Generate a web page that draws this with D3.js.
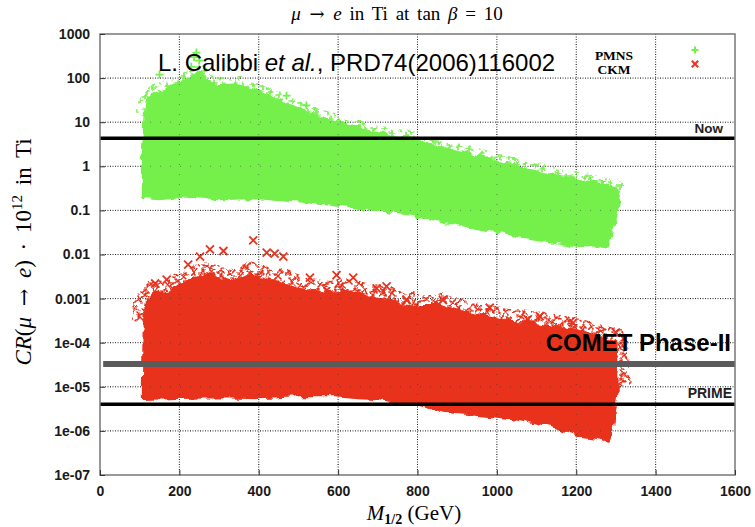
<!DOCTYPE html>
<html>
<head>
<meta charset="utf-8">
<script src="https://cdn.jsdelivr.net/npm/d3@7"></script>
<style>
  body { margin: 0; background: #fff; }
  svg { display: block; }
</style>
</head>
<body>
<svg id="chart" width="755" height="527"></svg>
<script>
// axis ticks
const xTicks = [0, 200, 400, 600, 800, 1000, 1200, 1400, 1600]
const yTicks = [1e3, 1e2, 10, 1, 0.1, 0.01, 0.001, 1e-4, 1e-5, 1e-6, 1e-7]
const yTickLabels = ["1000", "100", "10", "1", "0.1", "0.01", "0.001", "1e-04", "1e-05", "1e-06", "1e-07"]

// PMNS cloud outline: [M1/2, CR]
const pmnsTop = [[108, 2], [112, 15], [120, 35], [140, 50], [155, 45], [170, 60], [200, 75], [225, 95],
  [245, 140], [265, 90], [300, 70], [340, 72], [383, 60], [420, 40], [461, 28], [500, 20], [546, 14],
  [600, 9.5], [672, 6.5], [720, 5.2], [789, 4.2], [830, 3.1], [882, 2.3], [940, 1.8], [1000, 1.3],
  [1050, 0.95], [1091, 0.8], [1150, 0.62], [1201, 0.5], [1260, 0.4], [1300, 0.32], [1310, 0.28]]
const pmnsBottom = [[108, 0.19], [150, 0.18], [200, 0.2], [250, 0.21], [300, 0.18], [395, 0.19],
  [450, 0.17], [500, 0.16], [587, 0.13], [650, 0.115], [700, 0.1], [756, 0.09], [789, 0.082],
  [840, 0.062], [882, 0.052], [940, 0.041], [1000, 0.033], [1050, 0.026], [1091, 0.022], [1150, 0.018],
  [1201, 0.015], [1255, 0.014], [1280, 0.016], [1295, 0.05], [1305, 0.15]]

// CKM cloud outline
const ckmTop = [[108, 1e-5], [110, 3e-4], [118, 0.0009], [140, 0.0015], [170, 0.0012], [200, 0.002],
  [240, 0.0028], [270, 0.0038], [300, 0.0028], [340, 0.0024], [380, 0.0036], [420, 0.0028],
  [460, 0.0023], [500, 0.0017], [560, 0.0014], [620, 0.0015], [680, 0.0011], [720, 0.001],
  [760, 0.00075], [800, 0.00068], [860, 0.00068], [920, 0.00048], [980, 0.00038], [1050, 0.0003],
  [1110, 0.00027], [1190, 0.0002], [1250, 0.00015], [1298, 0.00011], [1305, 1e-5]]
const ckmBottom = [[108, 5.3e-6], [200, 5.6e-6], [300, 5.8e-6], [400, 5.5e-6], [500, 6.1e-6],
  [587, 6.2e-6], [650, 5.5e-6], [700, 5.2e-6], [756, 4.5e-6], [789, 4.2e-6], [830, 3.4e-6], [865, 2.7e-6],
  [930, 2.4e-6], [1000, 2.1e-6], [1050, 1.9e-6], [1091, 1.6e-6], [1150, 1.2e-6], [1210, 7.8e-7],
  [1260, 6.6e-7], [1282, 6e-7], [1292, 1.2e-6], [1300, 4e-6]]

// single markers sticking out of the clouds
const pmnsOutliers = [[243, 380], [237, 300], [250, 250], [150, 120], [230, 180], [470, 40], [520, 24]]
const ckmOutliers = [[386, 0.021], [277, 0.013], [311, 0.012], [420, 0.011], [440, 0.0105], [462, 0.009],
  [252, 0.009], [168, 0.0027], [139, 0.0022], [222, 0.0059], [596, 0.0034], [638, 0.003], [529, 0.003],
  [697, 0.0017], [722, 0.0019], [773, 0.00093], [864, 0.00093], [982, 0.00062], [1078, 0.00034],
  [1108, 0.0004], [1192, 0.00028], [1300, 0.00017]]

// experimental limits
const nowLimit = 4.3
const cometLimit = 3.3e-5
const primeLimit = 4e-6

const svg = d3.select("#chart")
const margin = { left: 100, right: 20, top: 34, bottom: 52 }
const width = 755, height = 527

const x = d3.scaleLinear().domain([0, 1600]).range([margin.left, width - margin.right])
const y = d3.scaleLog().domain([1e-7, 1e3]).range([height - margin.bottom, margin.top])

const green = "#74f04c"
const red = "#e8331f"

const plus = s => `M${-s},0H${s}M0,${-s}V${s}`
const cross = s => `M${-s},${-s}L${s},${s}M${-s},${s}L${s},${-s}`

// textures: rough edges and marker patterns for the dense clouds
const defs = svg.append("defs")
const rough = defs.append("filter").attr("id", "rough")
  .attr("filterUnits", "userSpaceOnUse").attr("x", 0).attr("y", 0).attr("width", width).attr("height", height)
rough.append("feTurbulence").attr("type", "fractalNoise").attr("baseFrequency", 0.09)
  .attr("numOctaves", 2).attr("seed", 4).attr("result", "noise")
rough.append("feDisplacementMap").attr("in", "SourceGraphic").attr("in2", "noise")
  .attr("scale", 8).attr("xChannelSelector", "R").attr("yChannelSelector", "G")

const glyphSpots = [[3, 3], [12, 6], [7, 11], [16, 14], [1, 16], [13, 1]]
const makePattern = (id, glyph, color, sw) => {
  const p = defs.append("pattern").attr("id", id).attr("patternUnits", "userSpaceOnUse")
    .attr("width", 19).attr("height", 18)
  p.selectAll("path").data(glyphSpots).join("path")
    .attr("transform", d => `translate(${d[0]},${d[1]})`)
    .attr("d", glyph).attr("stroke", color).attr("stroke-width", sw).attr("fill", "none")
}
makePattern("plusPat", plus(3.5), green, 1.6)
makePattern("crossPat", cross(3.5), red, 1.6)

// grid (dotted, gnuplot style)
const grid = svg.append("g")
grid.selectAll("line.gx").data(xTicks.slice(1, -1)).join("line")
  .attr("x1", d => x(d)).attr("x2", d => x(d))
  .attr("y1", y(1e3)).attr("y2", y(1e-7))
  .attr("stroke", "#222").attr("stroke-width", 1).attr("stroke-dasharray", "1,1.5")
grid.selectAll("line.gy").data(yTicks.slice(1, -1)).join("line")
  .attr("x1", x(0)).attr("x2", x(1600))
  .attr("y1", d => y(d)).attr("y2", d => y(d))
  .attr("stroke", "#222").attr("stroke-width", 1).attr("stroke-dasharray", "1,1.5")

// clouds: solid core, scattered markers along the upper edge
const line = d3.line().x(d => x(d[0])).y(d => y(d[1]))
const cloud = (top, bottom, color, pat, halo) => {
  const g = svg.append("g").attr("filter", "url(#rough)")
  g.append("path").attr("d", line(top.slice(1)))
    .attr("fill", "none").attr("stroke", `url(#${pat})`).attr("stroke-width", halo)
    .attr("stroke-linejoin", "round")
  g.append("path").attr("d", line(top.concat(bottom.slice().reverse())) + "Z")
    .attr("fill", color).attr("stroke", color).attr("stroke-width", 2)
    .attr("stroke-linejoin", "round")
}
cloud(pmnsTop, pmnsBottom, green, "plusPat", 15)
cloud(ckmTop, ckmBottom, red, "crossPat", 24)

svg.append("g").selectAll("path").data(pmnsOutliers).join("path")
  .attr("transform", d => `translate(${x(d[0])},${y(d[1])})`)
  .attr("d", plus(4)).attr("stroke", green).attr("stroke-width", 1.8).attr("fill", "none")
svg.append("g").selectAll("path").data(ckmOutliers).join("path")
  .attr("transform", d => `translate(${x(d[0])},${y(d[1])})`)
  .attr("d", cross(4)).attr("stroke", red).attr("stroke-width", 1.8).attr("fill", "none")

// sparse grid dots showing through the clouds
grid.clone(true).raise().attr("opacity", 0.45)
  .selectAll("line").attr("stroke-dasharray", "1,9")

// limit lines
svg.append("line")
  .attr("x1", x(0)).attr("x2", x(1600)).attr("y1", y(nowLimit)).attr("y2", y(nowLimit))
  .attr("stroke", "#000").attr("stroke-width", 3.5)
svg.append("line")
  .attr("x1", x(0)).attr("x2", x(1600)).attr("y1", y(primeLimit)).attr("y2", y(primeLimit))
  .attr("stroke", "#000").attr("stroke-width", 3.5)
svg.append("line")
  .attr("x1", x(8)).attr("x2", x(1600)).attr("y1", y(cometLimit)).attr("y2", y(cometLimit))
  .attr("stroke", "#5b5b5b").attr("stroke-width", 6)

// frame
svg.append("rect")
  .attr("x", x(0)).attr("y", y(1e3))
  .attr("width", x(1600) - x(0)).attr("height", y(1e-7) - y(1e3))
  .attr("fill", "none").attr("stroke", "#777").attr("stroke-width", 1.5)

// axes
const xAxis = svg.append("g")
  .attr("transform", `translate(0,${y(1e-7)})`)
  .call(d3.axisBottom(x).tickValues(xTicks).tickFormat(d3.format("d")).tickSize(-5).tickPadding(11))
const yAxis = svg.append("g")
  .attr("transform", `translate(${x(0)},0)`)
  .call(d3.axisLeft(y).tickValues(yTicks).tickFormat((d, i) => yTickLabels[i]).tickSize(-5).tickPadding(10))
;[xAxis, yAxis].forEach(a => {
  a.select(".domain").remove()
  a.selectAll(".tick line").attr("stroke", "#333")
  a.selectAll("text")
    .attr("font-family", "Liberation Sans, Arial, sans-serif")
    .attr("font-weight", "bold").attr("font-size", 14).attr("fill", "#1a1a1a")
})

// titles
const arrowFont = "DejaVu Serif, serif"
const title = svg.append("text")
  .attr("x", 397).attr("y", 20).attr("text-anchor", "middle")
  .attr("font-family", "Liberation Serif, serif").attr("font-size", 19).attr("word-spacing", 3)
title.append("tspan").attr("font-style", "italic").text("μ")
title.append("tspan").attr("font-family", arrowFont).attr("font-size", 18).text(" → ")
title.append("tspan").attr("font-style", "italic").text("e")
title.append("tspan").text(" in Ti at tan ")
title.append("tspan").attr("font-style", "italic").text("β")
title.append("tspan").text(" = 10")

const xl = svg.append("text")
  .attr("x", 414).attr("y", 520).attr("text-anchor", "middle")
  .attr("font-family", "Liberation Serif, serif").attr("font-size", 21)
xl.append("tspan").attr("font-style", "italic").text("M")
xl.append("tspan").attr("font-size", 14).attr("font-weight", "bold").attr("dy", 4).text("1/2")
xl.append("tspan").attr("dy", -4).text(" (GeV)")

const yl = svg.append("text")
  .attr("transform", "translate(31,252) rotate(-90)").attr("text-anchor", "middle")
  .attr("font-family", "Liberation Serif, serif").attr("font-size", 23).attr("word-spacing", 4)
yl.append("tspan").attr("font-style", "italic").text("CR")
yl.append("tspan").text("(")
yl.append("tspan").attr("font-style", "italic").text("μ")
yl.append("tspan").attr("font-family", arrowFont).attr("font-size", 21).text(" → ")
yl.append("tspan").attr("font-style", "italic").text("e")
yl.append("tspan").text(") · 10")
yl.append("tspan").attr("font-size", 15).attr("dy", -9).text("12")
yl.append("tspan").attr("dy", 9).text(" in Ti")

// reference
const ref = svg.append("text")
  .attr("x", 158).attr("y", 71)
  .attr("font-family", "Liberation Sans, Arial, sans-serif").attr("font-size", 24).attr("fill", "#000")
ref.append("tspan").text("L. Calibbi ")
ref.append("tspan").attr("font-style", "italic").text("et al.")
ref.append("tspan").text(", PRD74(2006)116002")

// legend
svg.append("text").attr("x", 614).attr("y", 60).attr("text-anchor", "middle")
  .attr("font-family", "Liberation Serif, serif").attr("font-weight", "bold").attr("font-size", 13.5)
  .text("PMNS")
svg.append("text").attr("x", 614).attr("y", 74).attr("text-anchor", "middle")
  .attr("font-family", "Liberation Serif, serif").attr("font-weight", "bold").attr("font-size", 13.5)
  .text("CKM")
svg.append("path").attr("transform", "translate(695,50)").attr("d", plus(3.5))
  .attr("stroke", green).attr("stroke-width", 2)
svg.append("path").attr("transform", "translate(695,64)").attr("d", cross(3.2))
  .attr("stroke", red).attr("stroke-width", 2)

// limit labels
const labelFont = "Liberation Sans, Arial, sans-serif"
svg.append("text").attr("x", 723).attr("y", y(nowLimit) - 5).attr("text-anchor", "end")
  .attr("font-family", labelFont).attr("font-weight", "bold").attr("font-size", 13.5).attr("fill", "#222")
  .text("Now")
svg.append("text").attr("x", 732).attr("y", y(primeLimit) - 6).attr("text-anchor", "end")
  .attr("font-family", labelFont).attr("font-weight", "bold").attr("font-size", 14).attr("fill", "#222")
  .text("PRIME")
svg.append("text").attr("x", 731).attr("y", y(cometLimit) - 13).attr("text-anchor", "end")
  .attr("font-family", labelFont).attr("font-weight", "bold").attr("font-size", 24).attr("fill", "#000")
  .text("COMET Phase-II")
</script>
</body>
</html>
